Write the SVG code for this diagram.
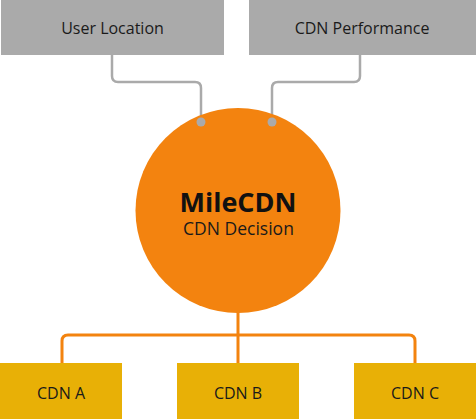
<svg xmlns="http://www.w3.org/2000/svg" width="476" height="419" viewBox="0 0 476 419">
<style>
.lbl{font-family:"Open Sans","Liberation Sans",sans-serif;font-size:16px;fill:#1a1a1a;text-anchor:middle}
.gray{fill:#aaaaaa}
.yel{fill:#e8b006}
.cg{fill:none;stroke:#aaaaaa;stroke-width:2.5}
.co{fill:none;stroke:#f3830f;stroke-width:3}
</style>
<rect width="476" height="419" fill="#ffffff"/>
<g id="connectors">
<path class="cg" d="M112 55 V76 Q112 82 118 82 H195 Q201 82 201 88 V122"/>
<path class="cg" d="M360 55 V76 Q360 82 354 82 H278 Q272 82 272 88 V122"/>
<path class="co" d="M238 300 V363"/>
<path class="co" d="M62 363 V341 Q62 335 68 335 H409 Q415 335 415 341 V363"/>
</g>
<g id="user-location">
<rect class="gray" x="1" y="0" width="223" height="55"/>
<text class="lbl" x="112.5" y="34">User Location</text>
</g>
<g id="cdn-performance">
<rect class="gray" x="249" y="0" width="227" height="55"/>
<text class="lbl" x="362" y="34">CDN Performance</text>
</g>
<g id="milecdn">
<circle cx="238" cy="210.5" r="102.5" fill="#f3830f"/>
<circle cx="201" cy="122" r="4.5" fill="#aaaaaa"/>
<circle cx="272" cy="122" r="4.5" fill="#aaaaaa"/>
<text x="238" y="212" style="font-family:'Open Sans','Liberation Sans',sans-serif;font-size:27px;font-weight:bold;fill:#111;text-anchor:middle">MileCDN</text>
<text class="lbl" x="238.5" y="234.5" style="font-size:17.5px">CDN Decision</text>
</g>
<g id="cdn-a">
<rect class="yel" x="0" y="363" width="122" height="56"/>
<text class="lbl" x="61" y="399">CDN A</text>
</g>
<g id="cdn-b">
<rect class="yel" x="177" y="363" width="122" height="56"/>
<text class="lbl" x="238" y="399">CDN B</text>
</g>
<g id="cdn-c">
<rect class="yel" x="354" y="363" width="122" height="56"/>
<text class="lbl" x="415" y="399">CDN C</text>
</g>
</svg>
